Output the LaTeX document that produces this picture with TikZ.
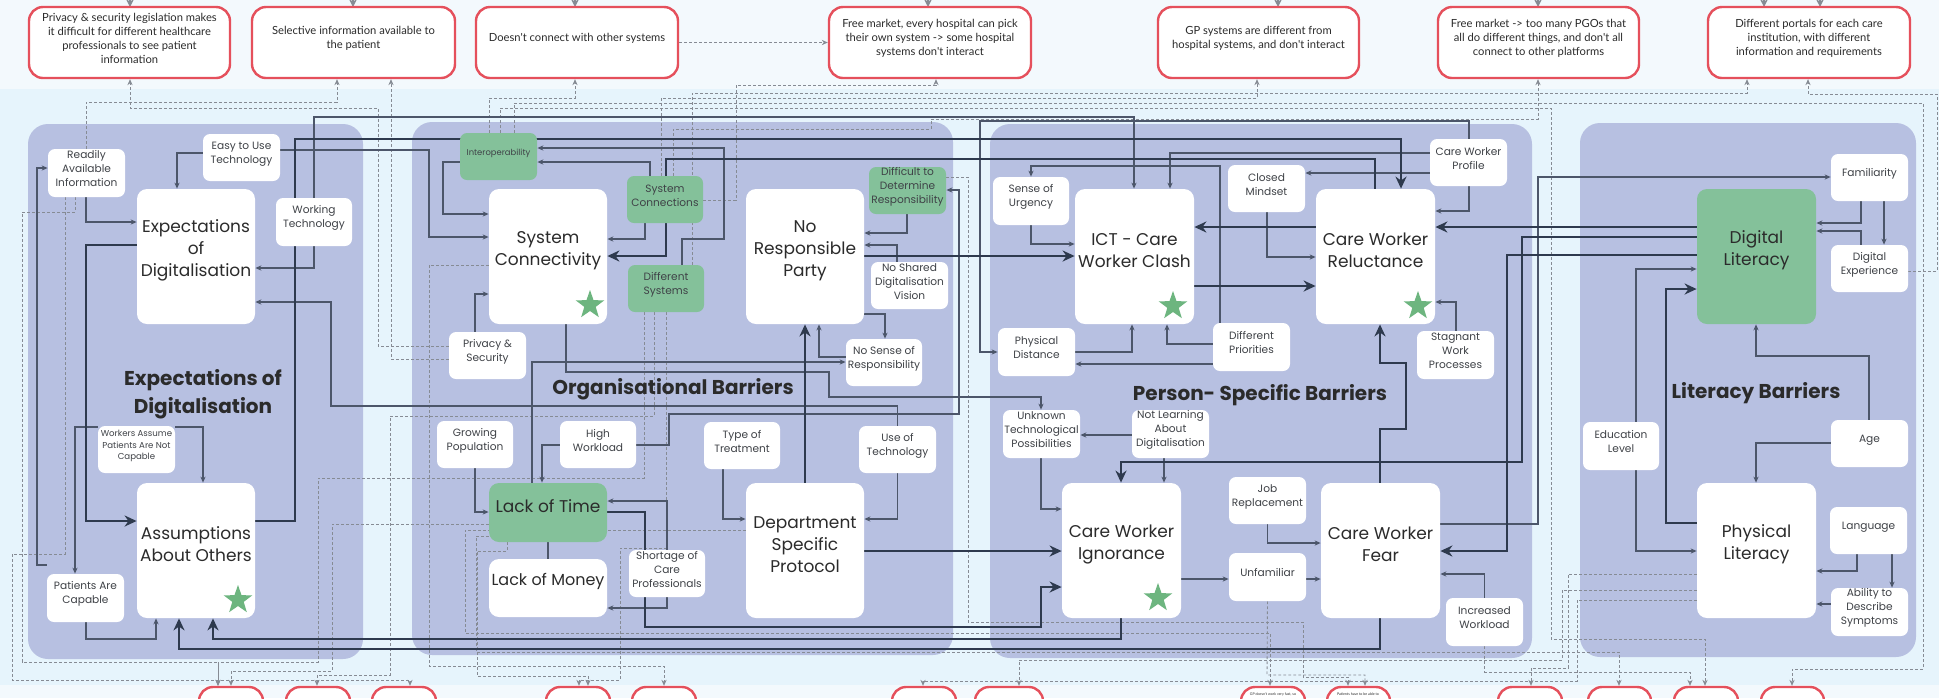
\documentclass[tikz,border=0pt]{standalone}
\usepackage{fontspec}
\setmainfont{Poppins}
\newfontfamily\boxfont{Lato}
\usetikzlibrary{arrows.meta,fit,shapes.geometric}

\definecolor{bandlight}{HTML}{F3F9FD}
\definecolor{bandblue}{HTML}{E6F4FC}
\definecolor{panelc}{HTML}{B7C0E1}
\definecolor{leaf}{HTML}{84C19A}
\definecolor{starg}{HTML}{6DB57F}
\definecolor{redline}{HTML}{E5505C}
\definecolor{ink}{HTML}{2B2B2B}
\definecolor{labelc}{HTML}{3F4247}
\definecolor{thickc}{HTML}{2E3A4E}
\definecolor{thinc}{HTML}{4C566A}
\definecolor{dashc}{HTML}{868B94}

\pgfdeclarelayer{back}
\pgfdeclarelayer{wires}
\pgfsetlayers{back,wires,main}

\tikzset{
  panelbg/.style={fill=panelc, rounded corners=10pt},
  bigbox/.style={fill=white, rounded corners=5pt, inner sep=0pt, align=center,
    font=\fontsize{8.5}{11}\selectfont, text=ink},
  greenbig/.style={bigbox, fill=leaf},
  lbl/.style={fill=white, rounded corners=3.5pt, inner sep=0pt, align=center,
    font=\fontsize{5.3}{7}\selectfont, text=labelc},
  greenlbl/.style={lbl, fill=leaf},
  issue/.style={draw=redline, line width=1.2pt, fill=white, rounded corners=7pt,
    inner sep=0pt, align=center, font=\boxfont\fontsize{5.6}{7}\selectfont, text=ink},
  strong/.style={draw=thickc, line width=1.4pt, -{Stealth[length=6pt,width=5.5pt]}},
  link/.style={draw=thinc, line width=0.55pt, -{Stealth[length=3pt,width=2.6pt]}},
  plain/.style={draw=thinc, line width=0.55pt},
  hint/.style={draw=dashc, line width=0.45pt, dash pattern=on 1.4pt off 1.1pt,
    -{Stealth[length=3pt,width=2.6pt]}},
  feedin/.style={draw=dashc, line width=0.6pt, -{Stealth[length=4pt,width=4pt]}},
  award/.style={star, star points=5, star point ratio=2.5, fill=starg, inner sep=0pt,
    minimum size=15pt},
  ttl/.style={font=\bfseries\fontsize{10}{14}\selectfont, text=ink, align=center}
}

\begin{document}
\begin{tikzpicture}[x=0.5pt, y=-0.5pt]
\useasboundingbox (0,0) rectangle (1939,698);

% ---------- background bands and panels ----------
\begin{pgfonlayer}{back}
  \fill[bandlight] (0,0) rectangle (1939,89);
  \fill[bandblue] (0,89) rectangle (1939,685);
  \fill[bandlight] (0,685) rectangle (1939,698);
  \fill[panelbg] (28,124) rectangle (363,659);
  \fill[panelbg] (412,122) rectangle (953,655);
  \fill[panelbg] (990,124) rectangle (1532,658);
  \fill[panelbg] (1580,123) rectangle (1916,657);
\end{pgfonlayer}

% ---------- issue boxes along the top ----------
\node[issue, fit={(29,7) (230,78)}] (t1) {Privacy \& security legislation makes\\it difficult for different healthcare\\professionals to see patient\\information};
\node[issue, fit={(252,7) (455,78)}] (t2) {Selective information available to\\the patient};
\node[issue, fit={(476,7) (678,78)}] (t3) {Doesn't connect with other systems};
\node[issue, fit={(829,7) (1031,78)}] (t4) {Free market, every hospital can pick\\their own system -> some hospital\\systems don't interact};
\node[issue, fit={(1158,7) (1359,78)}] (t5) {GP systems are different from\\hospital systems, and don't interact};
\node[issue, fit={(1438,7) (1639,78)}] (t6) {Free market -> too many PGOs that\\all do different things, and don't all\\connect to other platforms};
\node[issue, fit={(1708,7) (1910,78)}] (t7) {Different portals for each care\\institution, with different\\information and requirements};

% ---------- issue boxes along the bottom ----------
\node[issue, fit={(199,687) (263,760)}] (b1) {};
\node[issue, fit={(286,687) (350,760)}] (b2) {};
\node[issue, fit={(372,687) (436,760)}] (b3) {};
\node[issue, fit={(546,687) (610,760)}] (b4) {};
\node[issue, fit={(632,687) (696,760)}] (b5) {};
\node[issue, fit={(892,687) (956,760)}] (b6) {};
\node[issue, fit={(975,687) (1043,760)}] (b7) {};
\node[issue, fit={(1241,687) (1305,760)}] (b8) {};
\node[issue, fit={(1327,687) (1390,760)}] (b9) {};
\node[issue, fit={(1498,687) (1562,760)}] (b10) {};
\node[issue, fit={(1588,687) (1651,760)}] (b11) {};
\node[issue, fit={(1674,687) (1738,760)}] (b12) {};
\node[issue, fit={(1761,687) (1824,760)}] (b13) {};
\node[font=\boxfont\fontsize{1.8}{2}\selectfont, text=ink, inner sep=0pt] (b8txt) at (1273,694) {GP doesn't work very fast, so};
\node[font=\boxfont\fontsize{1.8}{2}\selectfont, text=ink, inner sep=0pt] (b9txt) at (1358,694) {Patients have to be able to};

% ---------- Expectations of Digitalisation ----------
\node[lbl, fit={(48,149) (125,197)}] (rai) {Readily\\Available\\Information};
\node[lbl, fit={(203,134) (280,181)}] (etut) {Easy to Use\\Technology};
\node[lbl, fit={(276,198) (352,246)}] (wt) {Working\\Technology};
\node[bigbox, fit={(137,189) (255,324)}] (exp) {Expectations\\of\\Digitalisation};
\node[lbl, fit={(98,426) (175,473)}, font=\fontsize{4.3}{5.7}\selectfont] (wapanc) {Workers Assume\\Patients Are Not\\Capable};
\node[bigbox, fit={(137,483) (255,618)}] (aao) {Assumptions\\About Others};
\node[lbl, fit={(47,574) (124,622)}] (pac) {Patients Are\\Capable};

% ---------- Organisational Barriers ----------
\node[greenlbl, fit={(460,133) (537,180)}, font=\fontsize{4.2}{5}\selectfont] (interop) {Interoperability};
\node[bigbox, fit={(489,189) (607,324)}] (sc) {System\\Connectivity};
\node[greenlbl, fit={(627,176) (703,223)}] (sysc) {System\\Connections};
\node[greenlbl, fit={(628,265) (704,312)}] (ds) {Different\\Systems};
\node[bigbox, fit={(746,189) (864,324)}] (nrp) {No\\Responsible\\Party};
\node[greenlbl, fit={(869,167) (946,214)}] (ddr) {Difficult to\\Determine\\Responsibility};
\node[lbl, fit={(871,262) (948,309)}] (nsdv) {No Shared\\Digitalisation\\Vision};
\node[lbl, fit={(846,339) (922,386)}] (nsor) {No Sense of\\Responsibility};
\node[lbl, fit={(449,332) (526,379)}] (ps) {Privacy \&\\Security};
\node[lbl, fit={(437,421) (513,468)}] (gp) {Growing\\Population};
\node[lbl, fit={(560,421) (636,468)}] (hw) {High\\Workload};
\node[lbl, fit={(704,422) (780,469)}] (tot) {Type of\\Treatment};
\node[lbl, fit={(859,426) (936,473)}] (uot) {Use of\\Technology};
\node[greenbig, fit={(489,483) (607,542)}] (lot) {Lack of Time};
\node[bigbox, fit={(489,559) (607,617)}, font=\fontsize{8}{11}\selectfont] (lom) {Lack of Money};
\node[bigbox, fit={(746,483) (864,618)}] (dsp) {Department\\Specific\\Protocol};
\node[lbl, fit={(629,550) (705,597)}] (socp) {Shortage of\\Care\\Professionals};

% ---------- Person-specific Barriers ----------
\node[lbl, fit={(993,177) (1069,225)}] (sou) {Sense of\\Urgency};
\node[bigbox, fit={(1075,189) (1194,324)}] (ict) {ICT - Care\\Worker Clash};
\node[lbl, fit={(1228,165) (1305,212)}] (cm) {Closed\\Mindset};
\node[lbl, fit={(1430,139) (1507,186)}] (cwp) {Care Worker\\Profile};
\node[bigbox, fit={(1316,189) (1435,324)}] (cwr) {Care Worker\\Reluctance};
\node[lbl, fit={(998,328) (1075,376)}] (pd) {Physical\\Distance};
\node[lbl, fit={(1213,323) (1290,371)}] (dp) {Different\\Priorities};
\node[lbl, fit={(1417,331) (1494,379)}] (swp) {Stagnant\\Work\\Processes};
\node[lbl, fit={(1003,410) (1080,458)}] (utp) {Unknown\\Technological\\Possibilities};
\node[lbl, fit={(1132,410) (1209,458)}] (nlad) {Not Learning\\About\\Digitalisation};
\node[bigbox, fit={(1062,483) (1181,618)}] (cwi) {Care Worker\\Ignorance};
\node[lbl, fit={(1229,477) (1306,524)}] (jr) {Job\\Replacement};
\node[lbl, fit={(1229,553) (1306,601)}] (unf) {Unfamiliar};
\node[bigbox, fit={(1321,483) (1440,618)}] (cwf) {Care Worker\\Fear};
\node[lbl, fit={(1446,598) (1523,646)}] (iw) {Increased\\Workload};

% ---------- Literacy Barriers ----------
\node[lbl, fit={(1831,154) (1908,201)}] (fam) {Familiarity};
\node[greenbig, fit={(1697,189) (1816,324)}] (dl) {Digital\\Literacy};
\node[lbl, fit={(1831,245) (1908,292)}] (de) {Digital\\Experience};
\node[lbl, fit={(1583,422) (1659,470)}] (el) {Education\\Level};
\node[lbl, fit={(1831,420) (1908,467)}] (age) {Age};
\node[bigbox, fit={(1697,483) (1816,618)}] (pl) {Physical\\Literacy};
\node[lbl, fit={(1830,507) (1907,554)}] (lang) {Language};
\node[lbl, fit={(1831,588) (1908,636)}] (ads) {Ability to\\Describe\\Symptoms};

% ---------- stars and panel titles ----------
\node[award] (s1) at (238,600) {};
\node[award] (s2) at (590,305) {};
\node[award] (s3) at (1173,306) {};
\node[award] (s4) at (1418,306) {};
\node[award] (s5) at (1158,598) {};
\node[ttl] (h1) at (203,394) {Expectations of\\Digitalisation};
\node[ttl] (h2) at (673,389) {Organisational Barriers};
\node[ttl] (h3) at (1260,395) {Person- Specific Barriers};
\node[ttl] (h4) at (1756,393) {Literacy Barriers};

\begin{pgfonlayer}{wires}
% ---------- incoming arrows at the top edge ----------
\foreach \xx in {130,353,575,928,1278,1538,1764,1820}
  \draw[feedin] (\xx,-8) -- (\xx,7);

% ---------- dashed links to the issue boxes ----------
\draw[hint] (rai.north -| 86,0) |- (337,102) -- (t2.south -| 337,0);
\draw[hint] (ps.west |- 0,346) -| (378,108) -| (t1.south -| 130,0);
\draw[hint] (ps.west |- 0,359) -| (t2.south -| 391,0);
\draw[hint] (interop.north -| 489,0) |- (575,98) -- (t3.south -| 575,0);
\draw[hint] (t3.east) -- (t4.west);
\draw[hint] (sysc.east |- 0,200) -| (736,85) -| (t4.south -| 936,0);
\draw[hint] (sysc.north -| 661,0) |- (1257,98) -- (t5.south -| 1257,0);
\draw[hint] (sysc.north -| 673,0) |- (931,129) |- (1538,119) -- (t6.south -| 1538,0);
\draw[hint] (ds.north -| 692,0) |- (1747,93) -- (t7.south -| 1747,0);
\draw[hint] (de.east |- 0,271) -| (1937,94) -| (t7.south -| 1808,0);
\draw[hint] (interop.north -| 514,0) |- (1923,103) |- (1792,669) -- (b13.north -| 1792,0);
\draw[hint] (interop.north -| 500,0) |- (1551,108) |- (1705,639) -- (b12.north -| 1705,0);
\draw[hint] (rai.south -| 75,0) |- (22,212) |- (218,662) -- (b1.north -| 218,0);
\draw[hint] (rai.south -| 65,0) |- (12,554) |- (410,680) -- (b3.north -| 410,0);
\draw[hint] (lot.west |- 0,524) -| (332,671) -| (b1.north -| 231,0);
\draw[hint] (ds.south -| 654,0) |- (390,416) |- (317,675) -- (b2.north -| 317,0);
\draw[hint] (ds.south -| 644,0) |- (318,478) |- (218,662) -- (b1.north -| 218,0);
\draw[hint] (ds.south -| 666,0) |- (620,548) |- (579,680) -- (b4.north -| 579,0);
\draw[hint] (sc.west |- 0,265) -| (429,666) -| (b5.north -| 664,0);
\draw[hint] (lot.south -| 507,0) |- (477,551) |- (588,676) -- (b4.north -| 588,0);
\draw[hint] (dsp.west |- 0,530) -| (465,633) -| (b8.north -| 1270,0);
\draw[hint] (lot.west |- 0,536) -| (476,652) -| (b11.north -| 1619,0);
\draw[hint] (ddr.east |- 0,177) -| (968,622) -| (1303,677) -| (b9.north -| 1348,0);
\draw[hint] (pl.west |- 0,574) -| (1568,668) -| (b10.north -| 1531,0);
\draw[hint] (pl.west |- 0,590) -| (1562,660) -| (b7.north -| 1019,0);
\draw[hint] (pl.west |- 0,600) -| (1577,681) -| (b6.north -| 923,0);
\draw[hint] (unf.south) -- (1267,675) -| (b9.north -| 1365,0);
\draw[hint] (iw.south) |- (1690,672) -- (b12.north -| 1690,0);

% ---------- thin links ----------
\draw[link] (rai.south -| 86,0) |- (exp.west |- 0,222);
\draw[link] (etut.west |- 0,153) -| (exp.north -| 177,0);
\draw[link] (etut.east |- 0,150) -| (429,237) -- (sc.west |- 0,237);
\draw[link] (wt.south) |- (exp.east |- 0,268);
\draw[link] (wt.north) |- (1134,117) -- (ict.north -| 1134,0);
\draw[link] (wapanc.west |- 0,427) -| (pac.north -| 75,0);
\draw[link] (wapanc.east |- 0,427) -| (aao.north -| 203,0);
\draw[link] (pac.west |- 0,565) -| (37,168) -- (rai.west |- 0,168);
\draw[link] (pac.south -| 86,0) |- (156,639) -- (aao.south -| 156,0);
\draw[link] (interop.west |- 0,162) -| (443,214) -- (sc.west |- 0,214);
\draw[link] (sysc.north -| 650,0) |- (interop.east |- 0,162);
\draw[link] (ds.north -| 682,0) |- (724,239) |- (interop.east |- 0,148);
\draw[link] (sysc.south -| 645,0) |- (sc.east |- 0,239);
\draw[link] (ps.north -| 475,0) |- (sc.west |- 0,294);
\draw[link] (sc.south -| 566,0) |- (829,372) |- (1041,397) -- (utp.north -| 1041,0);
\draw[link] (lot.north -| 532,0) |- (nsor.west |- 0,362);
\draw[link] (hw.west |- 0,445) -| (lot.north -| 542,0);
\draw[link] (hw.east |- 0,445) -| (669,414) -| (959,190) -- (ddr.east |- 0,190);
\draw[link] (ddr.south -| 907,0) |- (nrp.east |- 0,233);
\draw[link] (nsdv.north -| 897,0) |- (nrp.east |- 0,245);
\draw[link] (nrp.east |- 0,314) -| (nsor.north -| 885,0);
\draw[link] (nsor.west |- 0,357) -| (nrp.south -| 819,0);
\draw[link] (gp.south) |- (lot.west |- 0,512);
\draw[link] (tot.south -| 723,0) |- (dsp.west |- 0,519);
\draw[link] (uot.south) |- (dsp.east |- 0,519);
\draw[link] (uot.north) |- (331,406) |- (exp.east |- 0,302);
\draw[link] (socp.north) |- (lot.east |- 0,501);
\draw[link] (socp.south) |- (lom.east |- 0,608);
\draw[plain] (lot.south -| 548,0) -- (lom.north -| 548,0);
\draw[link] (dp.north -| 1220,0) |- (1031,166) -- (sou.north -| 1031,0);
\draw[link] (sou.south -| 1031,0) |- (ict.west |- 0,244);
\draw[link] (cwp.west |- 0,153) -| (ict.north -| 1170,0);
\draw[link] (cwp.west |- 0,173) -- (cm.east |- 0,173);
\draw[link] (cwp.south -| 1469,0) |- (cwr.east |- 0,211);
\draw[link] (cwp.north -| 1469,0) |- (980,121) |- (pd.west |- 0,352);
\draw[link] (cm.south -| 1267,0) |- (cwr.west |- 0,257);
\draw[link] (pd.east |- 0,352) -| (ict.south -| 1132,0);
\draw[link] (dp.west |- 0,344) -| (ict.south -| 1167,0);
\draw[link] (dp.west |- 0,364) -- (pd.east |- 0,364);
\draw[link] (swp.north -| 1456,0) |- (cwr.east |- 0,302);
\draw[link] (nlad.west |- 0,435) -- (utp.east |- 0,435);
\draw[link] (nlad.south -| 1164,0) -- (cwi.north -| 1164,0);
\draw[link] (utp.south -| 1041,0) |- (cwi.west |- 0,509);
\draw[link] (cwi.east |- 0,579) -- (unf.west |- 0,579);
\draw[link] (unf.east |- 0,579) -- (cwf.west |- 0,579);
\draw[link] (jr.south) |- (cwf.west |- 0,543);
\draw[link] (iw.north) |- (cwf.east |- 0,574);
\draw[link] (cwf.east |- 0,524) -| (1538,177) -- (fam.west |- 0,177);
\draw[link] (fam.south -| 1861,0) |- (dl.east |- 0,223);
\draw[link] (fam.south -| 1884,0) -- (de.north -| 1884,0);
\draw[link] (de.north -| 1861,0) |- (dl.east |- 0,231);
\draw[link] (el.north -| 1636,0) |- (dl.west |- 0,269);
\draw[link] (el.south -| 1636,0) |- (pl.west |- 0,551);
\draw[link] (age.north -| 1869,0) |- (1756,356) -- (dl.south -| 1756,0);
\draw[link] (age.west |- 0,443) -| (pl.north -| 1756,0);
\draw[link] (lang.south -| 1857,0) |- (pl.east |- 0,571);
\draw[link] (lang.south -| 1892,0) -- (ads.north -| 1892,0);
\draw[link] (ads.west |- 0,604) -- (pl.east |- 0,604);

% ---------- strong links ----------
\draw[strong] (exp.west |- 0,245) -| (86,521) -- (aao.west |- 0,521);
\draw[strong] (aao.east |- 0,521) -| (295,139) -| (cwr.north -| 1401,0);
\draw[strong] (cwr.north -| 1375,0) |- (666,159) |- (sc.east |- 0,256);
\draw[strong] (nrp.east |- 0,256) -- (ict.west |- 0,256);
\draw[strong] (dsp.north) -- (nrp.south);
\draw[strong] (dsp.east |- 0,551) -- (cwi.west |- 0,551);
\draw[strong] (lot.east |- 0,512) -| (645,627) -| (1041,587) -- (cwi.west |- 0,587);
\draw[strong] (cwi.south -| 1121,0) |- (213,639) -- (aao.south -| 213,0);
\draw[strong] (cwf.south -| 1380,0) |- (179,649) -- (aao.south -| 179,0);
\draw[strong] (ict.east |- 0,286) -- (cwr.west |- 0,286);
\draw[strong] (cwr.west |- 0,227) -- (ict.east |- 0,227);
\draw[strong] (cwf.north -| 1380,0) |- (1406,429) |- (1380,363) -- (cwr.south -| 1380,0);
\draw[strong] (dl.west |- 0,227) -- (cwr.east |- 0,227);
\draw[strong] (dl.west |- 0,237) -| (1522,462) -| (cwi.north -| 1121,0);
\draw[strong] (dl.west |- 0,255) -| (1507,551) -- (cwf.east |- 0,551);
\draw[strong] (pl.west |- 0,523) -| (1666,289) -- (dl.west |- 0,289);
\end{pgfonlayer}
\end{tikzpicture}
\end{document}
